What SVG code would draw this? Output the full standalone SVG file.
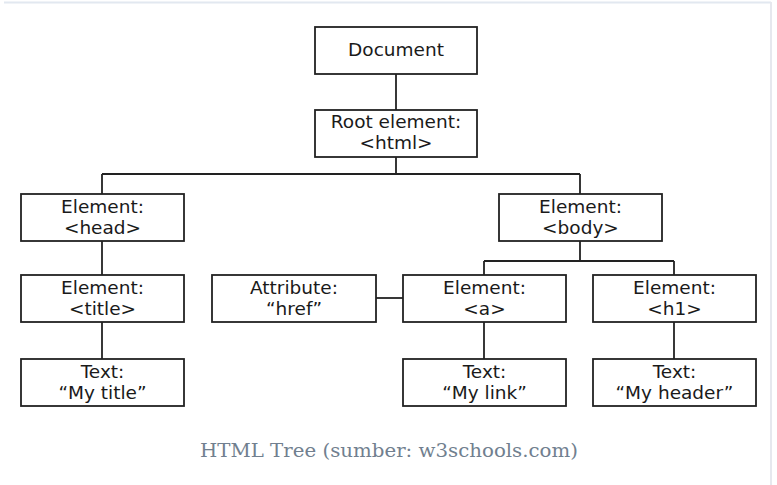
<svg xmlns="http://www.w3.org/2000/svg" width="777" height="485" viewBox="0 0 777 485">
<style>
.box{fill:#fff;stroke:#222;stroke-width:1.8}
.lbl{font-family:"DejaVu Sans",Verdana,sans-serif;font-size:18.5px;fill:#1a1a1a;text-anchor:middle}
.con{stroke:#222;stroke-width:1.8;fill:none}
.cap{font-family:"DejaVu Serif","Noto Serif",serif;font-size:18px;fill:#717f8f;text-anchor:middle}
</style>
<rect x="0" y="0" width="777" height="485" fill="#fff"/>
<line x1="4" y1="2.5" x2="771" y2="2.5" stroke="#e2e8f0" stroke-width="2"/>
<line x1="771" y1="2" x2="771" y2="485" stroke="#e6e8ee" stroke-width="2"/>
<g id="connectors">
<path class="con" d="M396 74V110"/>
<path class="con" d="M396 157V174M102 174H580M102 174V194M580 174V194"/>
<path class="con" d="M102 241V275"/>
<path class="con" d="M102 322V359"/>
<path class="con" d="M580 241V261M484 261H674M484 261V275M674 261V275"/>
<path class="con" d="M376 298H403"/>
<path class="con" d="M484 322V359"/>
<path class="con" d="M674 322V359"/>
</g>
<g id="document"><rect class="box" x="315" y="27" width="162" height="47"/><text class="lbl" x="396" y="56">Document</text></g>
<g id="root"><rect class="box" x="315" y="110" width="162" height="47"/><text class="lbl" x="396" y="128">Root element:</text><text class="lbl" x="396" y="149">&lt;html&gt;</text></g>
<g id="head"><rect class="box" x="21" y="194" width="163" height="47"/><text class="lbl" x="102.5" y="212.5">Element:</text><text class="lbl" x="102.5" y="234">&lt;head&gt;</text></g>
<g id="body"><rect class="box" x="499" y="194" width="163" height="47"/><text class="lbl" x="580.5" y="212.5">Element:</text><text class="lbl" x="580.5" y="234">&lt;body&gt;</text></g>
<g id="title"><rect class="box" x="21" y="275" width="163" height="47"/><text class="lbl" x="102.5" y="293.5">Element:</text><text class="lbl" x="102.5" y="315">&lt;title&gt;</text></g>
<g id="attribute"><rect class="box" x="212" y="275" width="164" height="47"/><text class="lbl" x="294" y="293.5">Attribute:</text><text class="lbl" x="294" y="315">“href”</text></g>
<g id="a"><rect class="box" x="403" y="275" width="163" height="47"/><text class="lbl" x="484.5" y="293.5">Element:</text><text class="lbl" x="484.5" y="315">&lt;a&gt;</text></g>
<g id="h1"><rect class="box" x="593" y="275" width="163" height="47"/><text class="lbl" x="674.5" y="293.5">Element:</text><text class="lbl" x="674.5" y="315">&lt;h1&gt;</text></g>
<g id="text-title"><rect class="box" x="21" y="359" width="163" height="47"/><text class="lbl" x="102.5" y="377.5">Text:</text><text class="lbl" x="102.5" y="399">“My title”</text></g>
<g id="text-link"><rect class="box" x="403" y="359" width="163" height="47"/><text class="lbl" x="484.5" y="377.5">Text:</text><text class="lbl" x="484.5" y="399">“My link”</text></g>
<g id="text-header"><rect class="box" x="593" y="359" width="163" height="47"/><text class="lbl" x="674.5" y="377.5">Text:</text><text class="lbl" x="674.5" y="399">“My header”</text></g>
<text class="cap" x="389" y="457" textLength="378" lengthAdjust="spacingAndGlyphs">HTML Tree (sumber: w3schools.com)</text>
</svg>
